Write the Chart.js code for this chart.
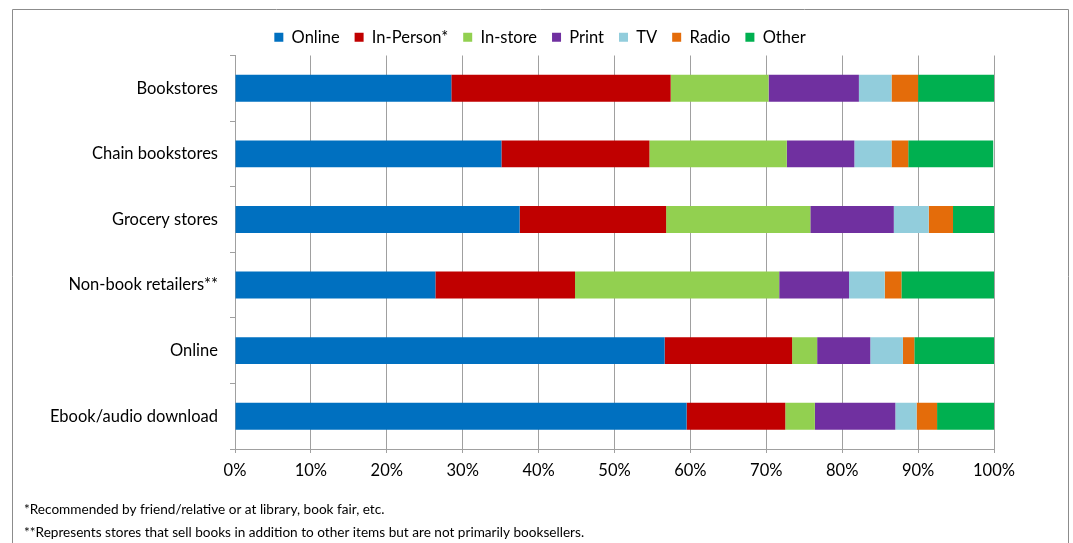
<!DOCTYPE html>
<html>
<head>
<meta charset="utf-8">
<script src="https://cdn.jsdelivr.net/npm/chart.js@4"></script>
<style>
  html, body { margin: 0; padding: 0; background: #fff; }
  #wrap { position: relative; width: 1073px; height: 543px; }
</style>
</head>
<body>
<div id="wrap"><canvas id="c" width="1073" height="543"></canvas></div>
<script>
// Where people discover books, by place of purchase (share of responses, %)
const categories = ['Bookstores', 'Chain bookstores', 'Grocery stores', 'Non-book retailers**', 'Online', 'Ebook/audio download'];
const seriesNames = ['Online', 'In-Person*', 'In-store', 'Print', 'TV', 'Radio', 'Other'];
const onlineVals   = [28.5, 35.1, 37.5, 26.4, 56.6, 59.5];
const inPersonVals = [28.9, 19.5, 19.3, 18.4, 16.8, 13.0];
const inStoreVals  = [12.9, 18.1, 19.0, 26.9, 3.3, 3.9];
const printVals    = [11.9, 8.9, 11.0, 9.2, 7.0, 10.6];
const tvVals       = [4.3, 4.9, 4.6, 4.7, 4.3, 2.8];
const radioVals    = [3.5, 2.2, 3.2, 2.2, 1.5, 2.7];
const otherVals    = [10.0, 11.2, 5.4, 12.3, 10.5, 7.5];
const xTickValues  = [0, 10, 20, 30, 40, 50, 60, 70, 80, 90, 100];
const footnotes = [
  '*Recommended by friend/relative or at library, book fair, etc.',
  '**Represents stores that sell books in addition to other items but are not primarily booksellers.'
];

const seriesValues = [onlineVals, inPersonVals, inStoreVals, printVals, tvVals, radioVals, otherVals];
const seriesColors = ['#0070C0', '#C00000', '#92D050', '#7030A0', '#92CDDC', '#E46C0A', '#00B050'];

const FONT = 'Lato, "Open Sans", "DejaVu Sans", sans-serif';
const GRID = '#a0a0a0';

// Centre the legend over the whole framed area rather than the plot box
const legendCenterPlugin = {
  id: 'legendCenter',
  afterLayout(chart) {
    const lg = chart.legend;
    if (!lg) return;
    const shift = 540 - (lg.left + lg.right) / 2;
    lg.left += shift;
    lg.right += shift;
  }
};

// Outer frame and footnotes drawn on the canvas
const framePlugin = {
  id: 'frame',
  afterDraw(chart) {
    const ctx = chart.ctx;
    ctx.save();
    ctx.strokeStyle = '#8c8c8c';
    ctx.lineWidth = 1;
    ctx.beginPath();
    ctx.moveTo(12.5, 560);
    ctx.lineTo(12.5, 9.5);
    ctx.lineTo(1068.5, 9.5);
    ctx.lineTo(1068.5, 560);
    ctx.stroke();
    ctx.fillStyle = '#000';
    ctx.font = '13.6px ' + FONT;
    ctx.textBaseline = 'middle';
    ctx.textAlign = 'left';
    ctx.fillText(footnotes[0], 24, 510);
    ctx.fillText(footnotes[1], 24, 533);
    ctx.restore();
  }
};

new Chart(document.getElementById('c'), {
  type: 'bar',
  data: {
    labels: categories,
    datasets: seriesNames.map((name, i) => ({
      label: name,
      data: seriesValues[i],
      backgroundColor: seriesColors[i],
      borderWidth: 0,
      categoryPercentage: 0.41,
      barPercentage: 1.0
    }))
  },
  options: {
    indexAxis: 'y',
    responsive: false,
    animation: false,
    layout: { padding: { left: 12, right: 79, top: 14, bottom: 0 } },
    plugins: {
      legend: {
        position: 'top',
        labels: {
          boxWidth: 9,
          boxHeight: 9,
          padding: 15,
          color: '#000',
          font: { family: FONT, size: 16.5 }
        }
      },
      tooltip: { enabled: false }
    },
    scales: {
      x: {
        stacked: true,
        min: 0,
        max: 100,
        afterBuildTicks(scale) { scale.ticks = xTickValues.map(v => ({ value: v })); },
        afterFit(scale) { scale.height = 94; },
        ticks: {
          callback: v => v + '%',
          color: '#000',
          padding: 8,
          font: { family: FONT, size: 16.5 }
        },
        grid: { color: GRID, tickLength: 4, lineWidth: 1 },
        border: { color: GRID }
      },
      y: {
        stacked: true,
        afterFit(scale) { scale.width = 223; },
        ticks: {
          color: '#000',
          padding: 12,
          font: { family: FONT, size: 16.5 }
        },
        grid: { offset: true, drawOnChartArea: false, color: GRID, tickLength: 5 },
        border: { color: GRID }
      }
    }
  },
  plugins: [legendCenterPlugin, framePlugin]
});
</script>
</body>
</html>
